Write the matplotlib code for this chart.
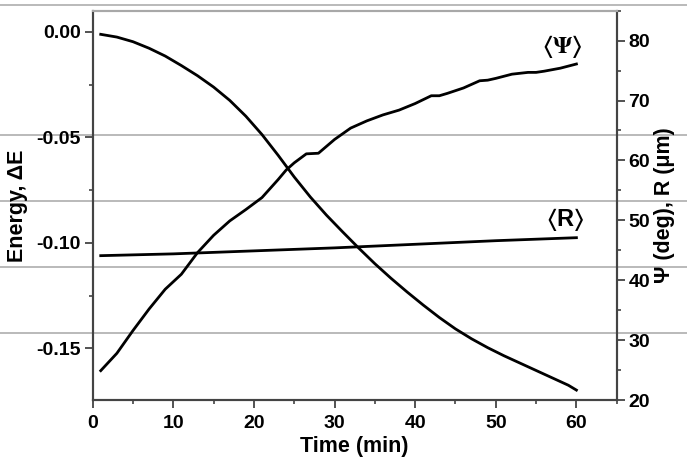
import numpy as np
import matplotlib
matplotlib.use("Agg")
import matplotlib.pyplot as plt
from matplotlib.lines import Line2D
from matplotlib.ticker import MultipleLocator

plt.rcParams['font.family'] = ['Liberation Sans', 'DejaVu Sans']
plt.rcParams['font.weight'] = 'bold'

# energy curve (left axis)
t_energy = [1, 3, 5, 7, 9, 11, 13, 15, 17, 19, 21, 23, 25, 27, 29, 31, 33, 35,
            37, 39, 41, 43, 45, 47, 49, 51, 53, 55, 57, 59, 60]
energy = [-0.0012, -0.0025, -0.0047, -0.0078, -0.0115, -0.016, -0.0208,
          -0.0262, -0.0325, -0.040, -0.0487, -0.0585, -0.0688, -0.0783,
          -0.0869, -0.0948, -0.1025, -0.1099, -0.1168, -0.1233, -0.1295,
          -0.1354, -0.1408, -0.1455, -0.1497, -0.1535, -0.157, -0.1605,
          -0.164, -0.1675, -0.1698]

# <Psi> (deg), right axis
t_psi = [1, 3, 5, 7, 9, 11, 13, 15, 17, 19, 21, 23, 24, 25, 26.5, 28, 30, 32,
         34, 36, 38, 40, 42, 43, 44, 46, 48, 49, 50, 52, 54, 55, 56, 58, 60]
psi = [24.9, 27.8, 31.6, 35.2, 38.5, 41.0, 44.6, 47.5, 49.9, 51.8, 53.8, 56.8,
       58.4, 59.6, 61.1, 61.2, 63.5, 65.4, 66.6, 67.6, 68.4, 69.5, 70.8, 70.8,
       71.2, 72.1, 73.3, 73.4, 73.7, 74.4, 74.7, 74.7, 74.9, 75.4, 76.1]

# <R> (um), right axis
t_r = [1, 10, 20, 30, 40, 50, 60]
r_mean = [44.1, 44.4, 44.9, 45.4, 46.0, 46.6, 47.1]

# page rule lines seen across the scan (pixels from top)
rule_rows = [5, 135, 201, 267, 333]

fig = plt.figure(figsize=(6.87, 4.57), dpi=100)
ax = fig.add_axes([0.1349, 0.1247, 0.7628, 0.8519])
ax.patch.set_visible(False)
ax2 = ax.twinx()

for yy in rule_rows:
    fig.add_artist(Line2D([0, 1], [1 - yy / 457, 1 - yy / 457],
                          transform=fig.transFigure, color='#b4b4b4',
                          lw=1.3, zorder=-5))

ax.plot(t_energy, energy, color='black', lw=2)
ax2.plot(t_psi, psi, color='black', lw=2)
ax2.plot(t_r, r_mean, color='black', lw=2)

ax.set_xlim(0, 65)
ax.set_ylim(-0.1745, 0.01)
ax2.set_ylim(20, 85)

ax.xaxis.set_minor_locator(MultipleLocator(5))
ax.yaxis.set_minor_locator(MultipleLocator(0.025))
ax2.yaxis.set_minor_locator(MultipleLocator(5))
ax.set_yticks([0.0, -0.05, -0.10, -0.15])
ax.set_yticklabels(['0.00', '-0.05', '-0.10', '-0.15'])
ax.set_xticks([0, 10, 20, 30, 40, 50, 60])
ax2.set_yticks([20, 30, 40, 50, 60, 70, 80])

spine_col = '#444444'
for a in (ax, ax2):
    for s in a.spines.values():
        s.set_color(spine_col)
        s.set_linewidth(1.5)
    a.spines['top'].set_color('#a8a8a8')
    a.tick_params(which='major', direction='out', length=5.5, width=1.3,
                  color=spine_col, labelsize=14, pad=3)
    a.tick_params(which='minor', direction='out', length=3, width=1.2,
                  color=spine_col)
ax.tick_params(axis='x', which='major', pad=5)

ax.set_xlabel('Time (min)', fontsize=15.5, fontweight='bold', labelpad=3)
ax.set_ylabel('Energy, ΔE', fontsize=15.5, fontweight='bold', labelpad=6)
ax2.set_ylabel('Ψ (deg), R (μm)', fontsize=15.5, fontweight='bold', labelpad=3)

ax2.text(58.2, 79.0, r'$\langle\Psi\rangle$', fontsize=17, fontweight='normal',
         math_fontfamily='stix', ha='center', va='center')
ax2.text(58.6, 50.2, r'$\langle$R$\rangle$', fontsize=17, fontweight='bold',
         math_fontfamily='stix', ha='center', va='center')

fig.savefig('out.png', dpi=100)
